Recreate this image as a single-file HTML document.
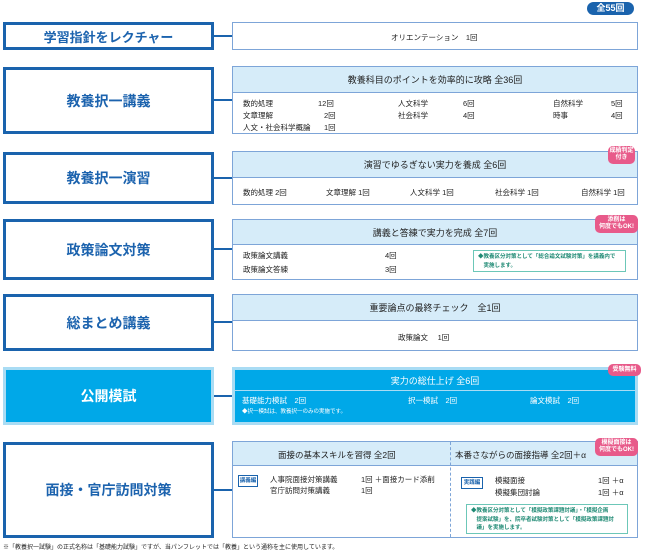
<!DOCTYPE html>
<html><head><meta charset="utf-8"><style>
*{margin:0;padding:0;box-sizing:border-box}
body{width:645px;height:551px;background:#fff;position:relative;font-family:"Liberation Sans","Noto Sans CJK JP",sans-serif;color:#222;overflow:hidden}
.a{position:absolute}
.L{position:absolute;left:3px;width:211px;border:3px solid #1a63ad;background:#fff;color:#1c63ae;font-weight:bold;font-size:14px;display:flex;align-items:center;justify-content:center}
.R{position:absolute;left:232px;width:406px;border:1px solid #7da5d8;background:#fff}
.H{position:absolute;left:0;right:0;top:0;background:#d6ecf9;border-bottom:1px solid #7da5d8;font-size:9px;display:flex;align-items:center;justify-content:center}
.c{position:absolute;left:214px;width:18px;height:2px;background:#1a63ad}
.t{position:absolute;font-size:7.5px;white-space:nowrap}
.pk{position:absolute;background:#e85a8a;color:#fff;font-size:6px;font-weight:bold;border-radius:5px;text-align:center;line-height:7px;padding:2px 1px;white-space:nowrap}
.note{position:absolute;border:1px solid #6cc7b8;background:#fff;color:#1f8a74;font-size:5.5px;line-height:8.5px;padding:2px 4px;font-weight:bold}
</style></head><body>
<div class="a" style="left:587px;top:2px;width:47px;height:13px;background:#1a63ad;border-radius:7px;color:#fff;font-size:9px;font-weight:bold;text-align:center;line-height:13px">全55回</div>

<div class="L" style="top:22px;height:28px;font-size:13px">学習指針をレクチャー</div>
<div class="c" style="top:35px"></div>
<div class="R" style="top:22px;height:28px"><div class="t" style="left:158px;top:9px">オリエンテーション　1回</div></div>

<div class="L" style="top:67px;height:67px">教養択一講義</div>
<div class="c" style="top:99px"></div>
<div class="R" style="top:66px;height:68px"><div class="H" style="height:26px">教養科目のポイントを効率的に攻略 全36回</div>
<div class="t" style="left:10px;top:31px">数的処理</div><div class="t" style="left:85px;top:31px">12回</div>
<div class="t" style="left:165px;top:31px">人文科学</div><div class="t" style="left:230px;top:31px">6回</div>
<div class="t" style="left:320px;top:31px">自然科学</div><div class="t" style="left:378px;top:31px">5回</div>
<div class="t" style="left:10px;top:43px">文章理解</div><div class="t" style="left:91px;top:43px">2回</div>
<div class="t" style="left:165px;top:43px">社会科学</div><div class="t" style="left:230px;top:43px">4回</div>
<div class="t" style="left:320px;top:43px">時事</div><div class="t" style="left:378px;top:43px">4回</div>
<div class="t" style="left:10px;top:55px">人文・社会科学概論</div><div class="t" style="left:91px;top:55px">1回</div>
</div>

<div class="L" style="top:152px;height:52px">教養択一演習</div>
<div class="c" style="top:177px"></div>
<div class="R" style="top:151px;height:54px"><div class="H" style="height:26px">演習でゆるぎない実力を養成 全6回</div>
<div class="t" style="left:10px;top:35px">数的処理 2回</div><div class="t" style="left:93px;top:35px">文章理解 1回</div><div class="t" style="left:177px;top:35px">人文科学 1回</div><div class="t" style="left:262px;top:35px">社会科学 1回</div><div class="t" style="left:348px;top:35px">自然科学 1回</div>
</div>
<div class="pk" style="left:608px;top:146px;width:27px">成績判定<br>付き</div>

<div class="L" style="top:219px;height:61px">政策論文対策</div>
<div class="c" style="top:248px"></div>
<div class="R" style="top:219px;height:61px"><div class="H" style="height:25px">講義と答練で実力を完成 全7回</div>
<div class="t" style="left:10px;top:30px">政策論文講義</div><div class="t" style="left:152px;top:30px">4回</div>
<div class="t" style="left:10px;top:44px">政策論文答練</div><div class="t" style="left:152px;top:44px">3回</div>
<div class="note" style="left:240px;top:30px;width:153px;height:22px">◆教養区分対策として「総合論文試験対策」を講義内で<br>　実施します。</div>
</div>
<div class="pk" style="left:595px;top:215px;width:43px">添削は<br>何度でもOK!</div>

<div class="L" style="top:294px;height:57px">総まとめ講義</div>
<div class="c" style="top:321px"></div>
<div class="R" style="top:294px;height:57px"><div class="H" style="height:26px">重要論点の最終チェック　全1回</div>
<div class="t" style="left:165px;top:37px">政策論文　 1回</div></div>

<div class="L" style="top:367px;height:58px;background:#00a8e8;border:3px solid #a9dcf4;color:#fff">公開模試</div>
<div class="c" style="top:395px"></div>
<div class="R" style="top:367px;height:58px;background:#00a8e8;border:3px solid #a9dcf4;color:#fff">
<div class="a" style="left:0;right:0;top:0;height:21px;border-bottom:1px solid #a9dcf4;font-size:9px;display:flex;align-items:center;justify-content:center">実力の総仕上げ 全6回</div>
<div class="t" style="left:7px;top:25px">基礎能力模試　2回</div><div class="t" style="left:173px;top:25px">択一模試　2回</div><div class="t" style="left:295px;top:25px">論文模試　2回</div>
<div class="t" style="left:7px;top:37px;font-size:5.5px">◆択一模試は、教養択一のみの実施です。</div>
</div>
<div class="pk" style="left:608px;top:364px;width:33px;line-height:8px">受験無料</div>

<div class="L" style="top:442px;height:96px">面接・官庁訪問対策</div>
<div class="c" style="top:489px"></div>
<div class="R" style="top:441px;height:97px"><div class="H" style="height:24px"></div>
<div class="a" style="left:217px;top:0;bottom:0;border-left:1px dashed #7da5d8"></div>
<div class="t" style="left:45px;top:7px;font-size:8.5px">面接の基本スキルを習得 全2回</div>
<div class="t" style="left:222px;top:7px;font-size:8.5px">本番さながらの面接指導 全2回＋α</div>
<div class="a" style="left:5px;top:33px;width:20px;height:12px;border:1px solid #1a63ad;font-size:5.5px;color:#1a63ad;text-align:center;line-height:10px;font-weight:bold">講義編</div>
<div class="t" style="left:37px;top:32px">人事院面接対策講義</div><div class="t" style="left:128px;top:32px">1回 ＋面接カード添削</div>
<div class="t" style="left:37px;top:43px">官庁訪問対策講義</div><div class="t" style="left:128px;top:43px">1回</div>
<div class="a" style="left:228px;top:35px;width:22px;height:12px;border:1px solid #1a63ad;font-size:5.5px;color:#1a63ad;text-align:center;line-height:10px;font-weight:bold">実践編</div>
<div class="t" style="left:262px;top:33px">模擬面接</div><div class="t" style="left:365px;top:33px">1回 ＋α</div>
<div class="t" style="left:262px;top:45px">模擬集団討論</div><div class="t" style="left:365px;top:45px">1回 ＋α</div>
<div class="note" style="left:233px;top:62px;width:162px;height:30px">◆教養区分対策として「模擬政策課題討議」・「模擬企画<br>　提案試験」を、院卒者試験対策として「模擬政策課題討<br>　議」を実施します。</div>
</div>
<div class="pk" style="left:595px;top:438px;width:43px">模擬面接は<br>何度でもOK!</div>

<div class="t" style="left:3px;top:542px;font-size:6px">※「教養択一試験」の正式名称は「基礎能力試験」ですが、当パンフレットでは「教養」という通称を主に使用しています。</div>
</body></html>
